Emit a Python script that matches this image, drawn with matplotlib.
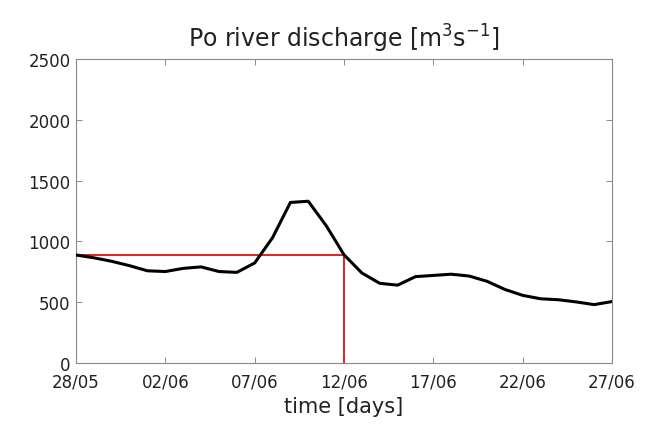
import numpy as np
import matplotlib
matplotlib.use('Agg')
import matplotlib.pyplot as plt

# daily Po river discharge, 28/05 .. 27/06 (m3/s)
discharge = [888, 865, 836, 800, 758, 752, 778, 790, 752, 745,
             822, 1030, 1320, 1330, 1130, 890, 740, 655, 640, 710,
             720, 730, 715, 672, 605, 556, 528, 520, 502, 480, 505]
days = np.arange(len(discharge))

tick_days = [0, 5, 10, 15, 20, 25, 30]
tick_labels = ['28/05', '02/06', '07/06', '12/06', '17/06', '22/06', '27/06']

ref_day = 15
ref_value = 890

fig = plt.figure(figsize=(6.59, 4.31), dpi=100)
ax = fig.add_axes([0.1153, 0.1555, 0.8134, 0.7054])

ax.plot(days, discharge, color='black', linewidth=2.2, zorder=3)
ax.plot([days[0], ref_day], [ref_value, ref_value], color='#e02020', linewidth=1.4, zorder=2)
ax.plot([ref_day, ref_day], [0, ref_value], color='#e02020', linewidth=1.4, zorder=2)

ax.set_xlim(0, 30)
ax.set_ylim(0, 2500)
ax.set_xticks(tick_days)
ax.set_xticklabels(tick_labels)
ax.set_yticks(np.arange(0, 2501, 500))

ax.tick_params(direction='in', top=True, right=True, length=4, width=0.6,
               labelsize=12, colors='#777777', labelcolor='#222222')
ax.tick_params(axis='x', pad=7)
ax.tick_params(axis='y', pad=4)
for s in ax.spines.values():
    s.set_linewidth(0.8)
    s.set_color('#888888')

ax.set_xlabel('time [days]', fontsize=15, labelpad=4, color='#222222')
ax.set_title('Po river discharge [m$^3$s$^{-1}$]', fontsize=17, pad=9, color='#222222')

plt.savefig('out.png', dpi=100)
